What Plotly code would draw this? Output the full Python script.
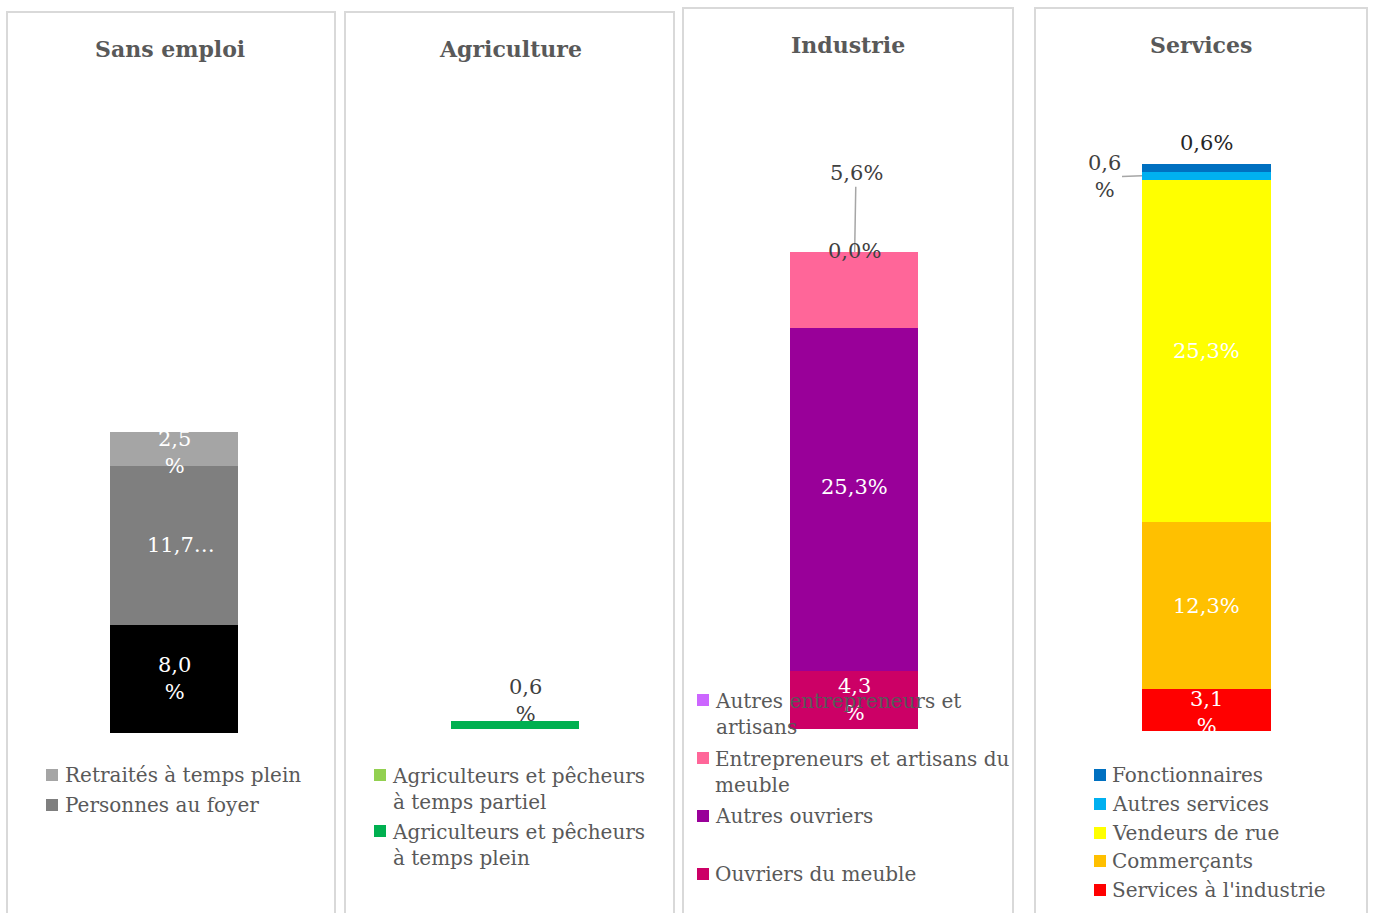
import plotly.graph_objects as go

W, H = 1376, 913
FONT = "DejaVu Serif"
TXT = "#595959"
DARK = "#404040"

# ---------------- data ----------------
panel_titles = ["Sans emploi", "Agriculture", "Industrie", "Services"]

# series listed bottom -> top of each stacked bar
sans_names = ["Chômeurs", "Personnes au foyer", "Retraités à temps plein"]
sans_values = [8.0, 11.7, 2.5]
sans_colors = ["#000000", "#7f7f7f", "#a5a5a5"]

agri_names = ["Agriculteurs et pêcheurs à temps plein", "Agriculteurs et pêcheurs à temps partiel"]
agri_values = [0.6, 0.0]
agri_colors = ["#00b050", "#92d050"]

indu_names = ["Ouvriers du meuble", "Autres ouvriers",
              "Entrepreneurs et artisans du meuble", "Autres entrepreneurs et artisans"]
indu_values = [4.3, 25.3, 5.6, 0.0]
indu_colors = ["#cc0066", "#990099", "#ff6699", "#cc66ff"]

serv_names = ["Services à l'industrie", "Commerçants", "Vendeurs de rue",
              "Autres services", "Fonctionnaires"]
serv_values = [3.1, 12.3, 25.3, 0.6, 0.6]
serv_colors = ["#ff0000", "#ffc000", "#ffff00", "#00b0f0", "#0070c0"]

# legend entries shown (top -> bottom)
sans_legend = ["Retraités à temps plein", "Personnes au foyer"]
agri_legend = ["Agriculteurs et pêcheurs à temps partiel", "Agriculteurs et pêcheurs à temps plein"]
indu_legend = ["Autres entrepreneurs et artisans", "Entrepreneurs et artisans du meuble",
               "Autres ouvriers", "Ouvriers du meuble"]
serv_legend = ["Fonctionnaires", "Autres services", "Vendeurs de rue",
               "Commerçants", "Services à l'industrie"]

panels = [
    (sans_names, sans_values, sans_colors, sans_legend),
    (agri_names, agri_values, agri_colors, agri_legend),
    (indu_names, indu_values, indu_colors, indu_legend),
    (serv_names, serv_values, serv_colors, serv_legend),
]

# ---------------- layout / style (pixels) ----------------
SCALE = 13.54  # px per percentage point
TOP = 110
geo = [
    dict(box=(7, 12, 335), bar=(110, 238), base=733, title=(170, 49),
         sq=46, tx=63, rows=[775, 805]),
    dict(box=(345, 12, 674), bar=(451, 579), base=729, title=(510, 49),
         sq=374, tx=390, rows=[775, 831]),
    dict(box=(683, 8, 1013), bar=(790, 918), base=729, title=(848, 45),
         sq=697, tx=713, rows=[700, 758, 816, 874]),
    dict(box=(1035, 8, 1367), bar=(1142, 1271), base=731, title=(1201, 45),
         sq=1094, tx=1110, rows=[775, 804, 833, 861, 890]),
]
legend_wrap = {
    "Agriculteurs et pêcheurs à temps partiel": "Agriculteurs et pêcheurs<br>à temps partiel",
    "Agriculteurs et pêcheurs à temps plein": "Agriculteurs et pêcheurs<br>à temps plein",
    "Autres entrepreneurs et artisans": "Autres entrepreneurs et<br>artisans",
    "Entrepreneurs et artisans du meuble": "Entrepreneurs et artisans du<br>meuble",
}
# label style per (panel, series index): mode, colour, xshift, yshift
label_style = {
    (0, 0): ("wrap", "white", 0, 0), (0, 1): ("trunc", "white", 7, 0), (0, 2): ("wrap", "white", 0, -3),
    (1, 0): ("wrap", DARK, 10, 24), (1, 1): ("none", DARK, 0, 0),
    (2, 0): ("wrap", "white", 0, 0), (2, 1): ("plain", "white", 0, 12),
    (2, 2): ("callout_up", DARK, 0, 0), (2, 3): ("top", DARK, 0, 0),
    (3, 0): ("wrap", "white", 0, -2), (3, 1): ("plain", "white", 0, 0), (3, 2): ("plain", "white", 0, 0),
    (3, 3): ("callout_left", DARK, 0, 0), (3, 4): ("plain", "#262626", 0, 25),
}


def px(x):
    return x / W


def py(y):
    return 1 - y / H


def fmt(v):
    return f"{v:.1f}".replace(".", ",")


fig = go.Figure()
shapes = []
annotations = []

for i, ((names, values, colors, legend), g) in enumerate(zip(panels, geo)):
    k = "" if i == 0 else str(i + 1)
    xa, ya = "x" + k, "y" + k
    ymax = (g["base"] - TOP) / SCALE
    fig.update_layout(**{
        "xaxis" + k: dict(domain=[px(g["bar"][0]), px(g["bar"][1])], range=[-0.5, 0.5],
                          visible=False, fixedrange=True),
        "yaxis" + k: dict(domain=[py(g["base"]), py(TOP)], range=[0, ymax],
                          visible=False, fixedrange=True),
    })
    cum = 0.0
    for j, (n, v, c) in enumerate(zip(names, values, colors)):
        fig.add_trace(go.Bar(x=[0], y=[v], name=n, marker=dict(color=c, line=dict(width=0)),
                             width=1, xaxis=xa, yaxis=ya, showlegend=False,
                             hovertemplate=n + ": %{y:.1f}%<extra></extra>"))
        mid = cum + v / 2
        top = cum + v
        cum = top
        mode, col, xsh, ysh = label_style[(i, j)]
        f = dict(family=FONT, size=21, color=col)
        base = dict(xref=xa, yref=ya, xanchor="center", yanchor="middle", font=f,
                    xshift=xsh, yshift=ysh)
        if mode == "none":
            continue
        if mode == "wrap":
            annotations.append(dict(x=0, y=mid, text=fmt(v) + "<br>%", showarrow=False, **base))
        elif mode == "trunc":
            annotations.append(dict(x=0, y=mid, text=fmt(v) + "…", showarrow=False, **base))
        elif mode == "plain":
            annotations.append(dict(x=0, y=mid, text=fmt(v) + "%", showarrow=False, **base))
        elif mode == "top":
            base["yshift"] = 1
            annotations.append(dict(x=0, y=top, text=fmt(v) + "%", showarrow=False, **base))
        elif mode == "callout_up":
            base.pop("xanchor"); base.pop("yanchor")
            annotations.append(dict(x=0, y=mid, text=fmt(v) + "%",
                                    showarrow=True, arrowhead=0, arrowwidth=1.5,
                                    arrowcolor="#a6a6a6", ax=2, ay=-117, standoff=38, **base))
        elif mode == "callout_left":
            base.pop("xanchor"); base.pop("yanchor")
            annotations.append(dict(x=-0.5, y=mid, text=fmt(v) + "<br>%",
                                    showarrow=True, arrowhead=0, arrowwidth=1.5,
                                    arrowcolor="#a6a6a6", ax=-38, ay=1, standoff=0, **base))

    # panel frame
    x0, y0, x1 = g["box"]
    shapes.append(dict(type="rect", xref="paper", yref="paper",
                       x0=px(x0), x1=px(x1), y0=py(y0), y1=py(H + 20),
                       line=dict(color="#d9d9d9", width=2), fillcolor="rgba(0,0,0,0)",
                       layer="below"))
    # title
    annotations.append(dict(x=px(g["title"][0]), y=py(g["title"][1]), xref="paper", yref="paper",
                            xanchor="center", yanchor="middle",
                            text="<b>" + panel_titles[i] + "</b>", showarrow=False,
                            font=dict(family=FONT, size=22, color=TXT)))
    # legend
    cmap = dict(zip(names, colors))
    for name, ry in zip(legend, g["rows"]):
        label = legend_wrap.get(name, name)
        nl = label.count("<br>")
        shapes.append(dict(type="rect", xref="paper", yref="paper",
                           x0=px(g["sq"]), x1=px(g["sq"] + 12), y0=py(ry + 6), y1=py(ry - 6),
                           fillcolor=cmap[name], line=dict(width=0), layer="above"))
        annotations.append(dict(x=px(g["tx"]), y=py(ry + nl * 14), xref="paper", yref="paper",
                                text=label, showarrow=False, xanchor="left", yanchor="middle",
                                align="left", font=dict(family=FONT, size=20, color=TXT)))

fig.update_layout(
    width=W, height=H, margin=dict(l=0, r=0, t=0, b=0),
    paper_bgcolor="white", plot_bgcolor="rgba(0,0,0,0)",
    barmode="stack", bargap=0, showlegend=False,
    shapes=shapes, annotations=annotations,
    font=dict(family=FONT, color=TXT),
)

fig.write_html("out.html", config={"displayModeBar": False},
               post_script="document.body.style.margin='0';")
